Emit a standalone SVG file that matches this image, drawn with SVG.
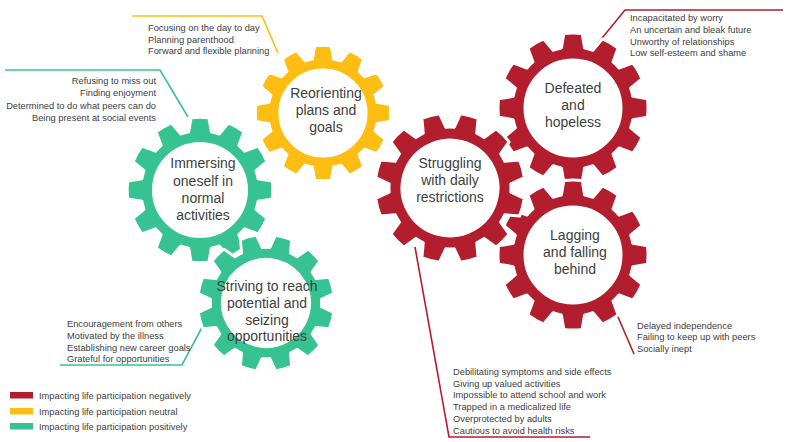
<svg xmlns="http://www.w3.org/2000/svg" xmlns:xlink="http://www.w3.org/1999/xlink" width="792" height="442" viewBox="0 0 792 442">
<style>
.gl{font-family:"Liberation Sans",Arial,sans-serif;font-size:14px;fill:#404040;text-anchor:middle}
.an{font-family:"Liberation Sans",Arial,sans-serif;font-size:9.3px;fill:#404040}
.r{fill:#B31E2E}.y{fill:#FDBD13}.gr{fill:#36C391}
.ln{fill:none;stroke-width:1.6}
.lr{stroke:#B31E2E}.ly{stroke:#FDBD13}.lg{stroke:#36C391}
.gear{stroke:#fff;stroke-width:3;stroke-linejoin:round;fill-rule:evenodd}
</style>
<defs>
<path id="gear" d="M59.88,-11.64 L74.44,-9.14 A75,75 0 0 1 74.44,9.14 L59.88,11.64 A61,61 0 0 1 57.68,19.86 L69.04,29.30 A75,75 0 0 1 59.90,45.14 L46.04,40.02 A61,61 0 0 1 40.02,46.04 L45.14,59.90 A75,75 0 0 1 29.30,69.04 L19.86,57.68 A61,61 0 0 1 11.64,59.88 L9.14,74.44 A75,75 0 0 1 -9.14,74.44 L-11.64,59.88 A61,61 0 0 1 -19.86,57.68 L-29.30,69.04 A75,75 0 0 1 -45.14,59.90 L-40.02,46.04 A61,61 0 0 1 -46.04,40.02 L-59.90,45.14 A75,75 0 0 1 -69.04,29.30 L-57.68,19.86 A61,61 0 0 1 -59.88,11.64 L-74.44,9.14 A75,75 0 0 1 -74.44,-9.14 L-59.88,-11.64 A61,61 0 0 1 -57.68,-19.86 L-69.04,-29.30 A75,75 0 0 1 -59.90,-45.14 L-46.04,-40.02 A61,61 0 0 1 -40.02,-46.04 L-45.14,-59.90 A75,75 0 0 1 -29.30,-69.04 L-19.86,-57.68 A61,61 0 0 1 -11.64,-59.88 L-9.14,-74.44 A75,75 0 0 1 9.14,-74.44 L11.64,-59.88 A61,61 0 0 1 19.86,-57.68 L29.30,-69.04 A75,75 0 0 1 45.14,-59.90 L40.02,-46.04 A61,61 0 0 1 46.04,-40.02 L59.90,-45.14 A75,75 0 0 1 69.04,-29.30 L57.68,-19.86 A61,61 0 0 1 59.88,-11.64 Z M48,0 A48,48 0 1 0 -48,0 A48,48 0 1 0 48,0 Z"/>
</defs>
<rect width="792" height="442" fill="#fff"/>

<g id="connectors">
<polyline class="ln lg" points="5,70 160,70 188,117"/>
<polyline class="ln ly" points="132,16 262,16 278,53"/>
<polyline class="ln lr" points="783,10 625,10 598,43"/>
<polyline class="ln lg" points="60,365 182,365 207,318"/>
<polyline class="ln lr" points="415,247 449,437 590,437"/>
<polyline class="ln lr" points="615,310 634,354"/>
</g>

<g id="immersing">
<use xlink:href="#gear" class="gear gr" transform="translate(200,190) scale(0.97)"/>
<text class="gl" x="203" y="168">Immersing</text>
<text class="gl" x="203" y="186">oneself in</text>
<text class="gl" x="203" y="203">normal</text>
<text class="gl" x="203" y="220">activities</text>
</g>

<g id="striving">
<use xlink:href="#gear" class="gear gr" transform="translate(266,303) scale(0.91) rotate(15)"/>
<text class="gl" x="267" y="291">Striving to reach</text>
<text class="gl" x="267" y="308">potential and</text>
<text class="gl" x="267" y="325">seizing</text>
<text class="gl" x="267" y="341">opportunities</text>
</g>

<g id="reorienting">
<use xlink:href="#gear" class="gear y" transform="translate(323,113) scale(0.9)"/>
<text class="gl" x="326" y="98">Reorienting</text>
<text class="gl" x="326" y="115">plans and</text>
<text class="gl" x="326" y="132">goals</text>
</g>

<g id="defeated">
<use xlink:href="#gear" class="gear r" transform="translate(573,108)"/>
<text class="gl" x="573" y="93">Defeated</text>
<text class="gl" x="573" y="110">and</text>
<text class="gl" x="573" y="127">hopeless</text>
</g>

<g id="lagging">
<use xlink:href="#gear" class="gear r" transform="translate(573,255)"/>
<text class="gl" x="575" y="240">Lagging</text>
<text class="gl" x="575" y="257">and falling</text>
<text class="gl" x="575" y="274">behind</text>
</g>

<g id="struggling">
<use xlink:href="#gear" class="gear r" transform="translate(450,188) rotate(15)"/>
<text class="gl" x="450" y="168">Struggling</text>
<text class="gl" x="450" y="185">with daily</text>
<text class="gl" x="450" y="202">restrictions</text>
</g>

<g id="notes-immersing" class="an" text-anchor="end">
<text x="156" y="84">Refusing to miss out</text>
<text x="156" y="96">Finding enjoyment</text>
<text x="156" y="108.5">Determined to do what peers can do</text>
<text x="156" y="121">Being present at social events</text>
</g>

<g id="notes-reorienting" class="an">
<text x="148" y="31">Focusing on the day to day</text>
<text x="148" y="42.5">Planning parenthood</text>
<text x="148" y="54">Forward and flexible planning</text>
</g>

<g id="notes-defeated" class="an">
<text x="630" y="20.5">Incapacitated by worry</text>
<text x="630" y="32.5">An uncertain and bleak future</text>
<text x="630" y="44.5">Unworthy of relationships</text>
<text x="630" y="56">Low self-esteem and shame</text>
</g>

<g id="notes-striving" class="an">
<text x="67" y="326.5">Encouragement from others</text>
<text x="67" y="338.5">Motivated by the illness</text>
<text x="67" y="350.5">Establishing new career goals</text>
<text x="67" y="362">Grateful for opportunities</text>
</g>

<g id="notes-struggling" class="an">
<text x="453" y="375">Debilitating symptoms and side effects</text>
<text x="453" y="386.5">Giving up valued activities</text>
<text x="453" y="398">Impossible to attend school and work</text>
<text x="453" y="410">Trapped in a medicalized life</text>
<text x="453" y="422">Overprotected by adults</text>
<text x="453" y="434">Cautious to avoid health risks</text>
</g>

<g id="notes-lagging" class="an">
<text x="637" y="328.5">Delayed independence</text>
<text x="637" y="340">Failing to keep up with peers</text>
<text x="637" y="351.5">Socially inept</text>
</g>

<g id="legend">
<rect x="10" y="392" width="23" height="6.5" class="r"/>
<rect x="10" y="408" width="23" height="6.5" class="y"/>
<rect x="10" y="423" width="23" height="6.5" class="gr"/>
<text class="an" x="39" y="398.5">Impacting life participation negatively</text>
<text class="an" x="39" y="414.5">Impacting life participation neutral</text>
<text class="an" x="39" y="429.5">Impacting life participation positively</text>
</g>
</svg>
